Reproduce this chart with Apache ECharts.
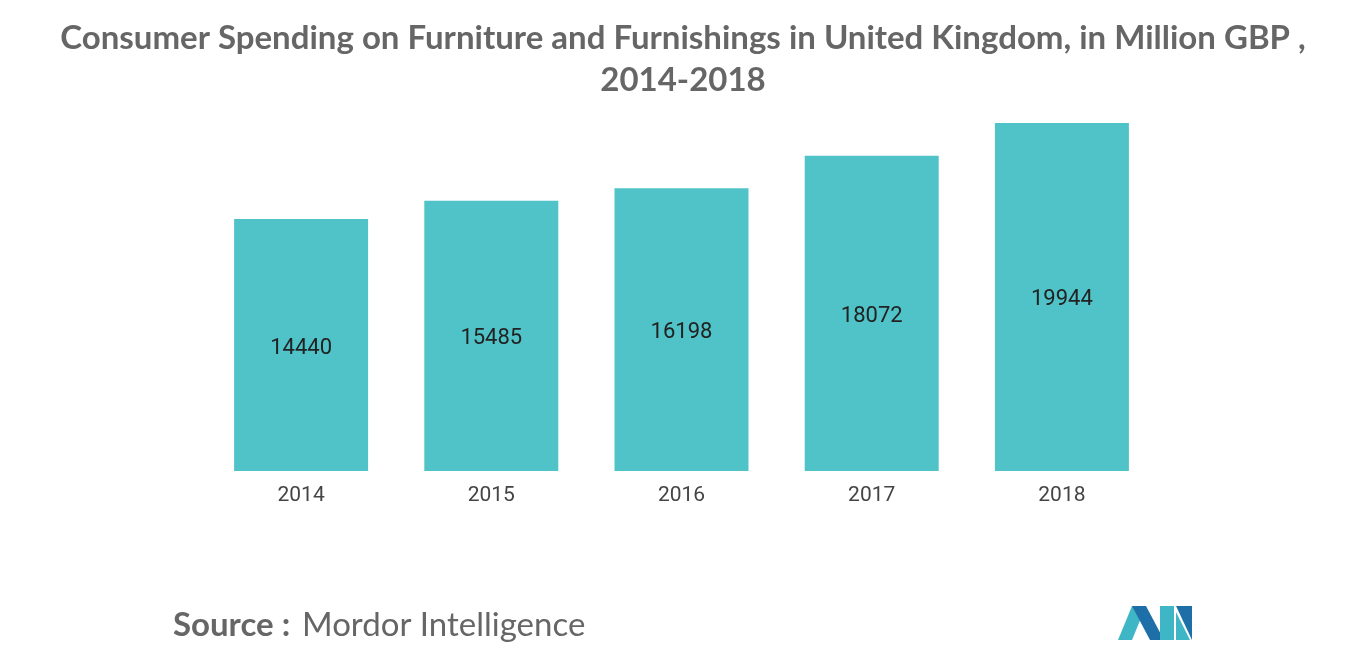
<!DOCTYPE html>
<html><head><meta charset="utf-8">
<script src="https://cdn.jsdelivr.net/npm/echarts@6/dist/echarts.min.js"></script>
<style>html,body{margin:0;padding:0;background:#fff}#c{width:1366px;height:655px}</style>
</head><body><div id="c"></div>
<script>
const categories = ['2014','2015','2016','2017','2018'];
const values = [14440, 15485, 16198, 18072, 19944];
const chart = echarts.init(document.getElementById('c'));
chart.setOption({
  animation: false,
  title: {
    text: 'Consumer Spending on Furniture and Furnishings in United Kingdom, in Million GBP ,\n2014-2018',
    left: 'center', top: 12,
    textStyle: {fontFamily: 'Lato', fontSize: 33, fontWeight: 'bold', color: '#666', lineHeight: 42}
  },
  grid: {left: 206, right: 209, top: 122, bottom: 184},
  xAxis: {
    type: 'category', data: categories,
    axisLine: {show: false}, axisTick: {show: false},
    axisLabel: {fontFamily: 'Roboto', fontSize: 21, color: '#444', margin: 14}
  },
  yAxis: {type: 'value', min: 0, max: 20000, show: false, splitLine: {show: false}},
  series: [{
    type: 'bar', data: values, barWidth: 134,
    itemStyle: {color: '#4fc3c8'},
    label: {show: true, position: 'inside', offset: [0, 3], fontFamily: 'Roboto', fontSize: 22, color: '#222'}
  }],
  graphic: [
    {type: 'text', left: 173, top: 609, style: {text: 'Source :', font: 'bold 33px Lato', fill: '#666'}},
    {type: 'text', left: 302, top: 609, style: {text: 'Mordor Intelligence', font: '33px Lato', fill: '#666'}},
    {type: 'polygon', shape: {points: [[1118,640],[1132,606],[1146,606],[1132,640]]}, style: {fill: '#3fb6c6'}},
    {type: 'polygon', shape: {points: [[1132,606],[1150,640],[1164,640],[1146,606]]}, style: {fill: '#1e6fa8'}},
    {type: 'polygon', shape: {points: [[1160,606],[1174,606],[1174,640],[1160,640]]}, style: {fill: '#3fb6c6'}},
    {type: 'polygon', shape: {points: [[1176,606],[1192,606],[1192,640]]}, style: {fill: '#1e6fa8'}},
    {type: 'polygon', shape: {points: [[1176,612],[1190,640],[1176,640]]}, style: {fill: '#3fb6c6'}}
  ]
});
</script></body></html>
